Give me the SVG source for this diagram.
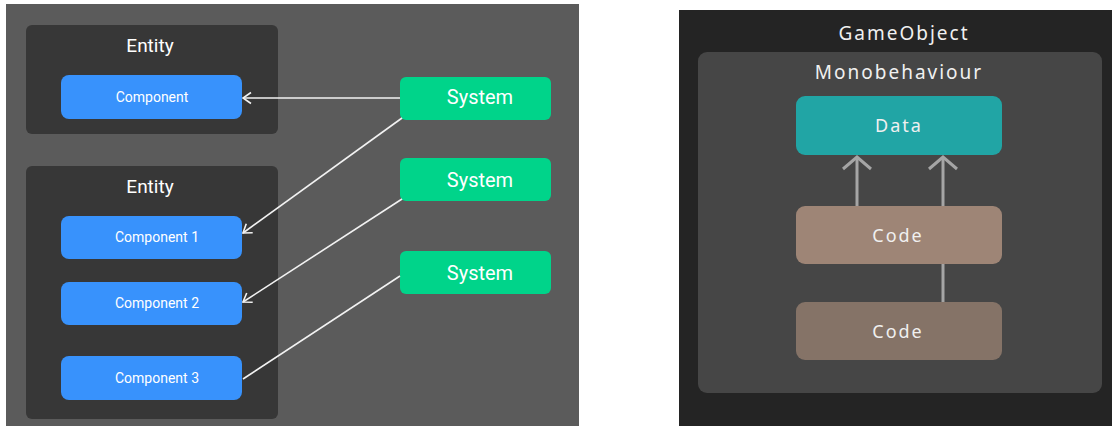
<svg xmlns="http://www.w3.org/2000/svg" width="1112" height="426" viewBox="0 0 1112 426">
<defs>
<style>
.lt{font-family:"Liberation Sans Narrow","Roboto","Liberation Sans",sans-serif;fill:#ffffff;text-anchor:middle;dominant-baseline:central}
.rt{font-family:"Noto Sans","Open Sans","DejaVu Sans",sans-serif;fill:#f0f0f0;text-anchor:middle;dominant-baseline:central;letter-spacing:2px}
.ent{fill:#373737}
.comp{fill:#3892fc}
.sys{fill:#00d48a}
.wl{stroke:#f2f2f2;stroke-width:1.6;fill:none}
.gl{stroke:#a5a5a5;stroke-width:3;fill:none}
</style>
<marker id="wa" markerUnits="userSpaceOnUse" markerWidth="20" markerHeight="20" refX="19" refY="10" orient="auto" viewBox="0 0 20 20">
<path d="M11,4.5 L19,10 L11,15.5" stroke="#f2f2f2" stroke-width="1.6" fill="none"/>
</marker>
<marker id="ga" markerUnits="userSpaceOnUse" markerWidth="34" markerHeight="34" refX="32" refY="17" orient="auto" viewBox="0 0 34 34">
<path d="M20,3 L32,17 L20,31" stroke="#a5a5a5" stroke-width="3" fill="none"/>
</marker>
</defs>
<rect x="6" y="4" width="573" height="422" fill="#5b5b5b"/>
<rect x="679" y="10" width="433" height="416" fill="#242424"/>
<g id="entity1">
<rect class="ent" x="26" y="25" width="252" height="109" rx="6"/>
<text class="lt" x="150" y="45" font-size="19">Entity</text>
</g>
<g id="component">
<rect class="comp" x="61" y="75" width="181" height="44" rx="8"/>
<text class="lt" x="152" y="97" font-size="14">Component</text>
</g>
<g id="entity2">
<rect class="ent" x="26" y="166" width="252" height="253" rx="6"/>
<text class="lt" x="150" y="186" font-size="19">Entity</text>
</g>
<g id="component1">
<rect class="comp" x="61" y="216" width="181" height="43" rx="8"/>
<text class="lt" x="157" y="237" font-size="14">Component 1</text>
</g>
<g id="component2">
<rect class="comp" x="61" y="282" width="181" height="43" rx="8"/>
<text class="lt" x="157" y="303" font-size="14">Component 2</text>
</g>
<g id="component3">
<rect class="comp" x="61" y="356" width="181" height="44" rx="8"/>
<text class="lt" x="157" y="378" font-size="14">Component 3</text>
</g>
<g id="system1">
<rect class="sys" x="400" y="77" width="151" height="43" rx="6"/>
<text class="lt" x="480" y="97" font-size="20">System</text>
</g>
<g id="system2">
<rect class="sys" x="400" y="158" width="151" height="43" rx="6"/>
<text class="lt" x="480" y="180" font-size="20">System</text>
</g>
<g id="system3">
<rect class="sys" x="400" y="251" width="151" height="43" rx="6"/>
<text class="lt" x="480" y="273" font-size="20">System</text>
</g>
<g id="gameobject">
<text class="rt" x="904" y="33" font-size="19">GameObject</text>
</g>
<g id="monobehaviour">
<rect x="698" y="52" width="404" height="341" rx="9" fill="#464646"/>
<text class="rt" x="899" y="72" font-size="19">Monobehaviour</text>
</g>
<g id="data">
<rect x="796" y="96" width="206" height="59" rx="9" fill="#21a5a5"/>
<text class="rt" x="899" y="125" font-size="18">Data</text>
</g>
<g id="code1">
<rect x="796" y="206" width="206" height="58" rx="9" fill="#9e8576"/>
<text class="rt" x="898" y="235" font-size="18">Code</text>
</g>
<g id="code2">
<rect x="796" y="302" width="206" height="58" rx="9" fill="#857367"/>
<text class="rt" x="898" y="331" font-size="18">Code</text>
</g>
<g id="connectors">
<line class="wl" x1="400" y1="98" x2="243" y2="98" marker-end="url(#wa)"/>
<line class="wl" x1="402" y1="118" x2="243" y2="233" marker-end="url(#wa)"/>
<line class="wl" x1="402" y1="199" x2="243" y2="302" marker-end="url(#wa)"/>
<line class="wl" x1="400" y1="276" x2="243" y2="379"/>
<line class="gl" x1="857" y1="206" x2="857" y2="157" marker-end="url(#ga)"/>
<line class="gl" x1="943" y1="206" x2="943" y2="157" marker-end="url(#ga)"/>
<line class="gl" x1="943" y1="302" x2="943" y2="264"/>
</g>
</svg>
